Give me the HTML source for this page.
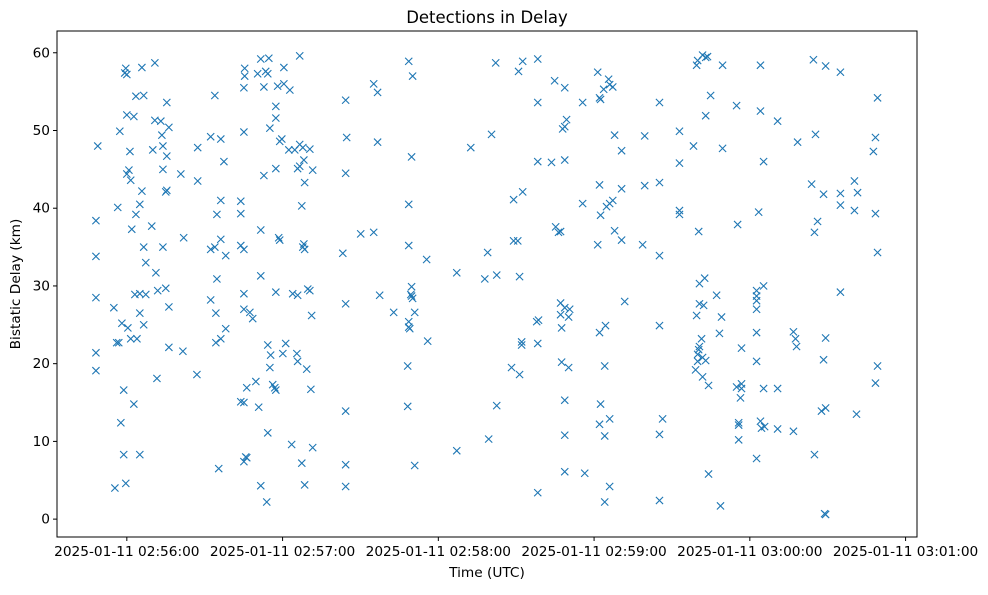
<!DOCTYPE html>
<html><head><meta charset="utf-8"><style>
body{margin:0;background:#fff;}
svg text{font-family:"DejaVu Sans","Liberation Sans",sans-serif;fill:#000;}
</style></head><body>
<svg id="chart" width="988" height="590" xmlns="http://www.w3.org/2000/svg"></svg>
<script>
const times = [-11.9,-11.9,-11.9,-11.9,-11.9,-11.2,
-5,-3.9,-3.1,-3.5,-2.7,-2.3,-1.9,-4.6,
-0.8,-0.4,0,0,1.2,0,0.8,1.5,-1.2,-1.2,-0.4,0.4,1.5,1.9,2.7,2.7,3.1,
3.5,3.5,3.9,5,5,5,5,5.8,5.8,6.5,6.5,6.5,7.3,7.3,9.6,
10.8,10.8,10,11.2,11.6,11.9,13.1,13.5,13.9,13.9,13.9,15,15.4,15.4,15.4,16.2,15,16.2,16.2,20.8,21.9,21.6,
27.3,27.3,27,32.3,32.3,32.3,33.9,33.9,34.3,34.3,34.7,34.7,36.2,36.2,36.2,36.2,35.4,37.4,38.1,38.1,
43.9,43.9,43.9,43.9,45.4,45.4,45.1,45.1,45.1,45.1,45.1,45.1,45.8,45.1,46.2,46.2,47.4,48.5,49.7,50.8,51.6,51.6,51.6,52.8,50.4,51.6,52.8,53.5,54.7,54.3,55.1,53.9,54.3,54.3,55.4,55.1,56.2,57.4,57,57.4,57.4,57.4,58.1,58.5,58.9,57.4,58.9,59.7,60.5,60.5,60.1,61.2,
62.4,62.8,63.5,63.9,64.7,65.5,65.8,65.8,65.8,66.6,66.6,67.4,66.6,67.8,67.4,67.8,68.2,68.5,68.5,69.3,68.5,68.2,69.7,70.5,70.5,71.2,70.9,71.6,71.6,
83.2,84.3,84.7,84.3,84.3,84.3,84.3,84.3,90.1,95.1,95.1,96.6,96.6,97.4,
102.8,108.6,108.6,108.6,108.2,108.2,108.6,108.6,109,109.7,109.7,110.1,109.4,110.9,110.1,109.7,110.9,115.5,115.9,
127.1,127.1,132.5,137.9,139,139.4,140.5,142.1,142.5,142.5,148.2,149,149,150.6,150.9,151.3,151.3,152.5,152.5,152.1,152.1,157.9,158.6,158.3,158.3,158.3,158.3,158.3,
163.6,164.8,165.2,166.3,167.1,167.1,167.1,168.7,167.5,167.5,168.7,168.7,168.7,167.9,168.7,168.7,169.4,168.7,170.2,170.2,170.6,175.6,175.6,176.4,
181.4,182.1,182.5,183.7,185.6,187.2,186,182.1,182.5,181.4,186,187.2,184.8,182.1,182.5,182.1,184.1,184.1,184.4,184.1,186,186,187.9,187.9,190.6,190.6,190.6,191.8,
199.5,199.5,198.7,205.2,205.2,205.2,205.2,205.2,205.2,206.4,212.9,212.9,212.9,212.9,218.3,220.3,220.6,220.6,219.5,219.9,219.9,220.3,219.1,220.6,221.8,221.8,219.9,219.5,221.8,223,223.7,223,224.9,222.2,222.6,221.4,223,224.1,224.1,227.2,228.3,229.1,229.5,229.5,228.7,
234.9,235.3,234.9,236.8,236.8,236.4,235.7,235.7,235.7,236.8,242.6,242.6,242.6,242.6,242.6,242.6,242.6,243.4,244.1,244.1,245.3,245.3,244.1,244.5,245.7,245.3,250.7,250.7,250.7,
256.8,257.6,258,256.8,258.4,264.5,263.8,264.9,266.1,265.3,264.9,267.6,269.2,268.4,269.2,268.8,269.2,268.4,269.2,274.9,274.9,274.9,274.9,
280.3,281.5,280.3,281.1,287.6,288.4,288.4,288.4,289.2,289.2,289.2];
const delays = [38.4,33.8,28.5,21.4,19.1,48.0,
27.2,22.7,22.7,40.1,49.9,12.4,25.2,4.0,
57.4,58.0,57.2,52.0,47.3,44.4,44.9,43.6,16.6,8.3,4.6,24.6,23.2,37.3,51.8,14.8,28.9,
54.4,39.2,23.2,40.5,29.0,26.5,8.3,42.2,58.1,35.0,54.5,25.0,33.0,28.9,37.7,
58.7,51.3,47.5,31.7,18.1,29.4,51.2,49.4,48.0,45.0,35.0,42.1,42.3,46.7,53.6,50.4,29.7,27.3,22.1,44.4,36.2,21.6,
47.8,43.5,18.6,49.2,34.7,28.2,54.5,35.0,26.5,22.7,39.2,30.9,48.9,41.0,36.0,23.2,6.5,46.0,33.9,24.5,
40.9,39.3,35.2,15.1,57.0,58.0,55.5,49.8,34.7,29.0,27.0,15.0,8.0,7.4,7.9,16.9,26.6,25.8,17.7,14.4,4.3,31.3,37.2,44.2,57.3,59.2,55.6,57.6,59.3,57.3,50.3,2.2,11.1,22.4,21.1,19.5,17.3,16.6,16.9,45.1,51.6,53.1,55.7,36.2,35.9,29.2,48.6,48.9,56.0,58.1,21.3,22.6,
47.5,55.2,9.6,29.0,47.5,21.3,20.3,45.1,28.8,45.4,59.6,40.3,48.2,47.8,7.2,35.0,35.4,34.7,4.4,19.3,43.3,46.2,29.6,29.4,47.6,26.2,16.7,9.2,44.9,
34.2,53.9,49.1,44.5,27.7,13.9,7.0,4.2,36.7,36.9,56.0,54.9,48.5,28.8,
26.6,58.9,40.5,35.2,19.7,14.5,25.4,24.7,24.5,29.9,28.7,28.4,28.9,26.6,57.0,46.6,6.9,33.4,22.9,
8.8,31.7,47.8,30.9,34.3,10.3,49.5,58.7,31.4,14.6,19.5,41.1,35.8,35.8,57.6,31.2,18.6,58.9,42.1,22.8,22.4,25.4,25.6,22.6,53.6,59.2,46.0,3.4,
45.9,56.4,37.6,36.9,37.0,27.8,26.3,27.2,24.6,20.2,15.3,10.8,6.1,50.2,50.5,55.5,51.4,46.2,19.5,26.0,27.0,40.6,53.6,5.9,
57.5,54.2,54.0,55.3,56.6,55.6,55.9,43.0,39.1,35.3,40.6,41.0,40.2,24.0,14.8,12.2,19.7,10.7,24.9,2.2,4.2,12.9,49.4,37.1,35.9,47.4,42.5,28.0,
49.3,42.9,35.3,53.6,43.3,33.9,24.9,10.9,2.4,12.9,49.9,39.7,39.2,45.8,48.0,37.0,30.3,27.7,26.2,21.2,20.3,21.8,19.2,22.2,20.8,18.3,59.0,58.4,59.7,59.4,59.5,51.9,54.5,27.5,31.0,23.2,20.4,17.2,5.8,28.8,23.9,26.0,47.7,58.4,1.7,
53.2,37.9,17.0,16.8,17.4,15.6,12.1,12.4,10.2,22.0,29.4,28.7,28.1,27.0,24.0,20.3,7.8,39.5,52.5,58.4,46.0,30.0,12.6,11.7,11.9,16.8,51.2,16.8,11.6,
24.1,23.2,22.2,11.3,48.5,59.1,43.1,36.9,38.3,49.5,8.3,13.9,14.3,20.5,23.3,0.7,0.6,41.8,58.3,57.5,40.4,41.9,29.2,
43.5,42.0,39.7,13.5,47.3,49.1,39.3,17.5,19.7,34.3,54.2];
const xTicks = [0,60,120,180,240,300];
const xTickLabels = ["2025-01-11 02:56:00","2025-01-11 02:57:00","2025-01-11 02:58:00","2025-01-11 02:59:00","2025-01-11 03:00:00","2025-01-11 03:01:00"];
const yTicks = [0,10,20,30,40,50,60];

const svg = document.getElementById('chart');
const NS = 'http://www.w3.org/2000/svg';
const L=57, R=917, T=31, B=537;
const xMin=-26.9, xMax=304.4, yMin=-2.3, yMax=62.8;
const sx = t => L + (t - xMin)/(xMax - xMin)*(R-L);
const sy = v => B - (v - yMin)/(yMax - yMin)*(B-T);
function mk(tag, attrs){const e=document.createElementNS(NS,tag);for(const k in attrs)e.setAttribute(k,attrs[k]);svg.appendChild(e);return e;}

const title = mk('text',{x:(L+R)/2,y:23,'text-anchor':'middle','font-size':'16.5'});
title.textContent='Detections in Delay';



const g = document.createElementNS(NS,'g');


svg.appendChild(g);
for(let i=0;i<times.length;i++){
  const cx=sx(times[i]), cy=sy(delays[i]), r=3.6;
  const p=document.createElementNS(NS,'path');
  p.setAttribute('d',`M${cx-r},${cy-r}L${cx+r},${cy+r}M${cx-r},${cy+r}L${cx+r},${cy-r}`);
  p.setAttribute('stroke','#1f77b4');p.setAttribute('stroke-width','1.1');
  
  
  g.appendChild(p);
}

const frame = mk('rect',{x:L,y:T,width:R-L,height:B-T,fill:'none',stroke:'#000','stroke-width':'1'});



xTicks.forEach((t,i)=>{
  const x=sx(t);
  const tk=mk('line',{x1:x,x2:x,y1:B,y2:B+4,stroke:'#000'});
  
  
  const lb=mk('text',{x:x,y:B+19,'text-anchor':'middle','font-size':'13.7'});
  lb.textContent=xTickLabels[i];
  
  
});
yTicks.forEach(v=>{
  const y=sy(v);
  const tk=mk('line',{x1:L-4,x2:L,y1:y,y2:y,stroke:'#000'});
  
  
  const lb=mk('text',{x:L-7,y:y+4.5,'text-anchor':'end','font-size':'13.7'});
  lb.textContent=String(v);
  
  
});
const xt=mk('text',{x:(L+R)/2,y:577,'text-anchor':'middle','font-size':'13.7'});
xt.textContent='Time (UTC)';


const yt=mk('text',{x:0,y:0,'text-anchor':'middle','font-size':'13.7',transform:`translate(20,${(T+B)/2}) rotate(-90)`});
yt.textContent='Bistatic Delay (km)';


</script>
</body></html>
